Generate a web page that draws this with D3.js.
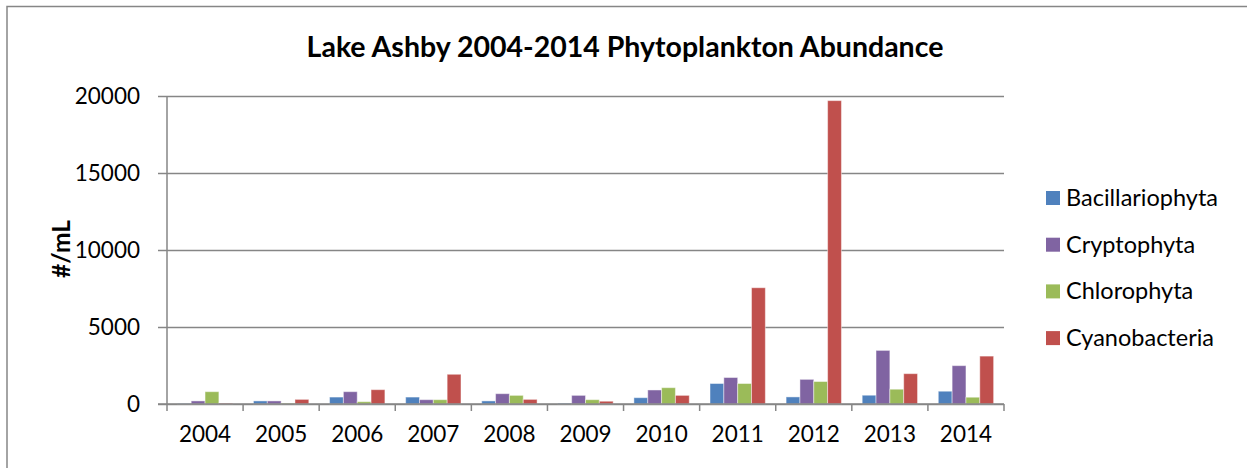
<!DOCTYPE html>
<html><head><meta charset="utf-8">
<script src="https://cdn.jsdelivr.net/npm/d3@7"></script>
<style>body{margin:0;background:#fff}svg{display:block}text{font-family:Lato,"Open Sans",sans-serif;fill:#000}</style>
</head><body>
<script>
const years = ["2004","2005","2006","2007","2008","2009","2010","2011","2012","2013","2014"];
const seriesNames = ["Bacillariophyta","Cryptophyta","Chlorophyta","Cyanobacteria"];
const seriesColors = ["#4F81BD","#8064A2","#9BBB59","#C0504D"];
const bacillariophyta = [30,200,450,450,200,50,410,1330,460,570,830];
const cryptophyta = [200,200,800,280,670,560,910,1720,1600,3480,2490];
const chlorophyta = [800,50,150,280,560,280,1060,1330,1460,960,440];
const cyanobacteria = [50,300,930,1930,300,180,560,7550,19700,1970,3110];
const yTicks = [0,5000,10000,15000,20000];
const seriesValues = [bacillariophyta,cryptophyta,chlorophyta,cyanobacteria];

const W=1247,H=468;
const svg=d3.select("body").append("svg").attr("width",W).attr("height",H);
svg.append("rect").attr("x",7).attr("y",6.5).attr("width",W+10).attr("height",H+10)
  .attr("fill","#fff").attr("stroke","#868686").attr("stroke-width",1.5);

const L=167,R=1004,T=96,B=404;
const x0=d3.scaleBand().domain(years).range([L,R]).paddingInner(0).paddingOuter(0);
const x1=d3.scaleBand().domain(seriesNames).range([0,x0.bandwidth()]).paddingInner(0).paddingOuter(0.75);
const y=d3.scaleLinear().domain([0,20000]).range([B,T]);

// gridlines + y axis
const yAxis=d3.axisLeft(y).tickValues(yTicks).tickSize(R-L+9).tickFormat(d=>d);
const gy=svg.append("g").attr("transform",`translate(${R},0)`).call(yAxis);
gy.select(".domain").remove();
gy.selectAll(".tick line").attr("stroke","#868686").attr("stroke-width",1.5);
gy.selectAll(".tick text").attr("x",-(R-L)-27).attr("font-size",22.5).attr("fill","#000").attr("font-family","Lato");
svg.append("line").attr("x1",L).attr("x2",L).attr("y1",T).attr("y2",B).attr("stroke","#868686").attr("stroke-width",1.5);

// bars
const groups=svg.append("g").selectAll("g").data(years).join("g").attr("transform",d=>`translate(${x0(d)},0)`);
groups.selectAll("rect").data((d,i)=>seriesNames.map((s,j)=>({s,j,v:seriesValues[j][i]}))).join("rect")
  .attr("x",d=>x1(d.s)).attr("width",x1.bandwidth())
  .attr("y",d=>y(d.v)).attr("height",d=>B-y(d.v))
  .attr("fill",d=>seriesColors[d.j]).attr("stroke","rgba(255,255,255,0.45)").attr("stroke-width",1);

// x axis
const xAxis=d3.axisBottom(x0).tickSize(0).tickPadding(22);
const gx=svg.append("g").attr("transform",`translate(0,${B})`).call(xAxis);
gx.select(".domain").remove();
gx.selectAll(".tick text").attr("font-size",22.5).attr("fill","#000").attr("font-family","Lato");
svg.append("line").attr("x1",L-9).attr("x2",R).attr("y1",B).attr("y2",B).attr("stroke","#868686").attr("stroke-width",1.5);
svg.append("g").selectAll("line").data(years.concat(["end"])).join("line")
  .attr("x1",(d,i)=>L+i*x0.step()).attr("x2",(d,i)=>L+i*x0.step())
  .attr("y1",B).attr("y2",B+7).attr("stroke","#868686").attr("stroke-width",1.5);

// title
svg.append("text").attr("x",625).attr("y",57).attr("text-anchor","middle")
  .attr("font-size",28.5).attr("font-weight","bold").text("Lake Ashby 2004-2014 Phytoplankton Abundance");
// y label
svg.append("text").attr("transform","translate(70,249) rotate(-90)").attr("text-anchor","middle")
  .attr("font-size",24.5).attr("font-weight","bold").text("#/mL");

// legend
const lg=svg.append("g").selectAll("g").data(seriesNames).join("g")
  .attr("transform",(d,i)=>`translate(1046,${198+i*46.7})`);
lg.append("rect").attr("x",0).attr("y",-7).attr("width",14).attr("height",14).attr("fill",(d,i)=>seriesColors[i]);
lg.append("text").attr("x",20).attr("y",8).attr("font-size",23.5).text(d=>d);
</script>
</body></html>
